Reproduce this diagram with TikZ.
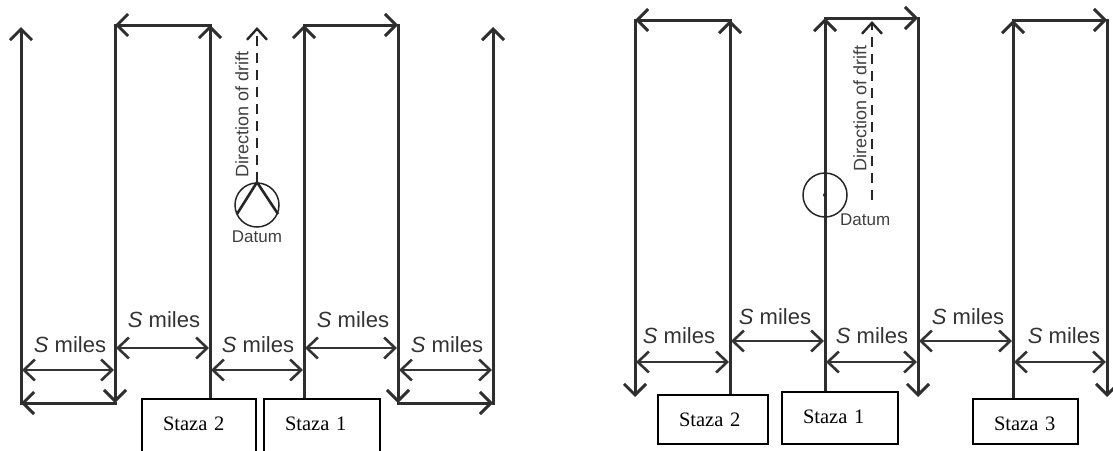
\documentclass[tikz,border=0pt]{standalone}
\usepackage{fontspec}
\setmainfont{Liberation Serif}
\setsansfont{Liberation Sans}
\usetikzlibrary{arrows.meta}

\begin{document}
\begin{tikzpicture}[x=1pt, y=-1pt,
		leg/.style={line width=3pt, draw=black!82, line cap=rect},
		legarrow/.style={leg, -{Straight Barb[length=11pt,width=22pt]}},
		dim/.style={line width=2.1pt, draw=black!80, {Straight Barb[length=11pt,width=21pt,line width=2.6pt]}-{Straight Barb[length=11pt,width=21pt,line width=2.6pt]}},
		drift/.style={line width=1.9pt, draw=black!85, dash pattern=on 10pt off 7pt, -{Straight Barb[length=11pt,width=20pt,line width=2.4pt]}},
		miles/.style={font=\sffamily\fontsize{22}{26}\selectfont, text=black!80, inner sep=0pt},
		small/.style={font=\sffamily\fontsize{18}{22}\selectfont, text=black!75, inner sep=0pt},
		datum/.style={draw=black!85, line width=1.5pt, circle, minimum size=44pt, inner sep=0pt},
		staza/.style={draw=black, line width=2pt, anchor=north west, inner xsep=21pt, inner ysep=0pt, align=left, text height=31pt, font=\fontsize{20.5}{24}\selectfont}]

				\useasboundingbox (0,0) rectangle (1113,450);
				\clip (0,0) rectangle (1113,450);

				% left pattern
				\draw [legarrow] (210,398) -- (210,25);
				\draw [legarrow] (210,25) -- (115,25);
				\draw [legarrow] (115,25) -- (115,403);
				\draw [legarrow] (115,403) -- (21,403);
				\draw [legarrow] (21,403) -- (21,27);

				\draw [legarrow] (304,398) -- (304,25);
				\draw [legarrow] (304,25) -- (398,25);
				\draw [legarrow] (398,25) -- (398,403);
				\draw [legarrow] (398,403) -- (493,403);
				\draw [legarrow] (493,403) -- (493,27);

				\draw [dim] (22,370) -- (114,370);
				\draw [dim] (116,348) -- (209,348);
				\draw [dim] (211,370) -- (303,370);
				\draw [dim] (305,348) -- (397,348);
				\draw [dim] (399,370) -- (492,370);

				\node [miles] (m1L) at (70,345) {\textit{S} miles};
				\node [miles] (m2L) at (164,320) {\textit{S} miles};
				\node [miles] (m3L) at (258,345) {\textit{S} miles};
				\node [miles] (m4L) at (353,320) {\textit{S} miles};
				\node [miles] (m5L) at (447,345) {\textit{S} miles};

				\node [datum] (datumL) at (257,205) {};
				\draw [line width=2.6pt, draw=black!85] (237,214) -- (datumL.north) -- (278,214);
				\coordinate (topL) at (257,27);
				\draw [drift] (datumL.north) -- (topL);
				\node [small, rotate=90] (driftL) at (242,114) {Direction of drift};
				\node [small, font=\sffamily\fontsize{17}{20}\selectfont] (dlabL) at (257,237) {Datum};

				\node [staza, text width=72pt, text depth=30pt] (s2L) at (141,398) {Staza 2};
				\node [staza, text width=74pt, text depth=30pt] (s1L) at (263,398) {Staza 1};

				%------
				% right pattern
				\draw [legarrow] (730,394) -- (730,20);
				\draw [legarrow] (730,20) -- (635,20);
				\draw [legarrow] (635,20) -- (635,397);

				\draw [legarrow] (825,391) -- (825,18);
				\draw [legarrow] (825,18) -- (918,18);
				\draw [legarrow] (918,18) -- (918,397);

				\draw [legarrow] (1013,398) -- (1013,20);
				\draw [legarrow] (1013,20) -- (1107,20);
				\draw [legarrow] (1107,20) -- (1107,397);

				\draw [dim] (636,362) -- (729,362);
				\draw [dim] (731,341) -- (824,341);
				\draw [dim] (826,362) -- (917,362);
				\draw [dim] (919,341) -- (1012,341);
				\draw [dim] (1014,362) -- (1106,362);

				\node [miles] (m1R) at (679,336) {\textit{S} miles};
				\node [miles] (m2R) at (775,317) {\textit{S} miles};
				\node [miles] (m3R) at (872,336) {\textit{S} miles};
				\node [miles] (m4R) at (968,317) {\textit{S} miles};
				\node [miles] (m5R) at (1064,336) {\textit{S} miles};

				\node [datum] (datumR) at (825,195) {};
				\fill [black!85] (datumR) circle (2);
				\coordinate (botR) at (872,200);
				\coordinate (topR) at (872,21);
				\draw [drift] (botR) -- (topR);
				\node [small, rotate=90] (driftR) at (860,108) {Direction of drift};
				\node [small, font=\sffamily\fontsize{17}{20}\selectfont, anchor=west] (dlabR) at (840,220) {Datum};

				\node [staza, text width=68pt, text depth=18pt] (s2R) at (657,394) {Staza 2};
				\node [staza, text width=74pt, text depth=21pt] (s1R) at (781,391) {Staza 1};
				\node [staza, text width=63pt, text depth=14pt] (s3R) at (972,398) {Staza 3};
		\end{tikzpicture}
\end{document}
